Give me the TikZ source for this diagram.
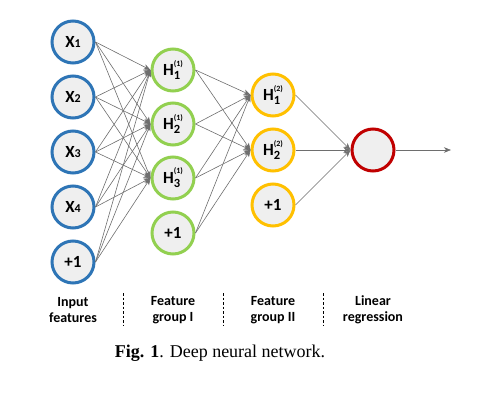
\documentclass[tikz,border=0pt]{standalone}
\usepackage{fontspec}
\setmainfont{Carlito}
\newfontfamily\capfont{Liberation Serif}
\usetikzlibrary{arrows.meta}
\definecolor{cblue}{HTML}{2E75B6}
\definecolor{cgreen}{HTML}{92D050}
\definecolor{cyellow}{HTML}{FFC000}
\definecolor{cred}{HTML}{C00000}
\definecolor{cfill}{HTML}{EFEFEF}
\definecolor{cedge}{HTML}{6E6E6E}
\begin{document}
\begin{tikzpicture}[x=1pt,y=-1pt,
  neuron/.style={circle,minimum size=42pt,inner sep=0pt,line width=3pt,fill=cfill,font=\fontsize{17}{19}\selectfont\bfseries},
  inneur/.style={neuron,draw=cblue},
  h1neur/.style={neuron,draw=cgreen},
  h2neur/.style={neuron,draw=cyellow},
  outneur/.style={neuron,draw=cred},
  conn/.style={draw=cedge,line width=0.6pt,-{Stealth[length=7pt,width=5.5pt,inset=2pt]}},
  lbl/.style={align=center,font=\fontsize{14}{16.5}\selectfont\bfseries},
  sep/.style={draw=black,line width=0.6pt,dash pattern=on 2.5pt off 2pt},
]
\useasboundingbox (0,0) rectangle (484,404);
\newcommand{\Hlab}[2]{H\raisebox{-4.5pt}{\shortstack[l]{{\fontsize{8}{8}\selectfont(#2)}\\[1.5pt]{\fontsize{12.5}{12}\selectfont #1}}}}
\newcommand{\Xlab}[1]{X{\fontsize{12}{14}\selectfont #1}}
% input layer
\node[inneur] (x1) at (73,42) {\Xlab{1}};
\node[inneur] (x2) at (73,97) {\Xlab{2}};
\node[inneur] (x3) at (73,152) {\Xlab{3}};
\node[inneur] (x4) at (73,207) {\Xlab{4}};
\node[inneur] (xb) at (73,262) {+1};
% hidden layer 1
\node[h1neur] (a1) at (173,70) {\Hlab{1}{1}};
\node[h1neur] (a2) at (173,124) {\Hlab{2}{1}};
\node[h1neur] (a3) at (173,178) {\Hlab{3}{1}};
\node[h1neur] (ab) at (173,233) {+1};
% hidden layer 2
\node[h2neur] (b1) at (273,95) {\Hlab{1}{2}};
\node[h2neur] (b2) at (273,150) {\Hlab{2}{2}};
\node[h2neur] (bb) at (273,205) {+1};
% output
\node[outneur] (o) at (373,150) {};
\coordinate (out) at (451,150);
% connectors
\foreach \s in {x1,x2,x3,x4,xb}
  \foreach \t in {a1,a2,a3}
    \draw[conn] (\s.east) -- (\t.west);
\foreach \s in {a1,a2,a3,ab}
  \foreach \t in {b1,b2}
    \draw[conn] (\s.east) -- (\t.west);
\foreach \s in {b1,b2,bb}
  \draw[conn] (\s.east) -- (o.west);
\draw[conn] (o.east) -- (out);
% labels
\node[lbl] (l1) at (73,310) {Input\\features};
\node[lbl] (l2) at (173,310) {Feature\\group I};
\node[lbl] (l3) at (273,310) {Feature\\group II};
\node[lbl] (l4) at (373,310) {Linear\\regression};
\coordinate (s1t) at (123,293); \coordinate (s1b) at (123,326);
\coordinate (s2t) at (223,293); \coordinate (s2b) at (223,326);
\coordinate (s3t) at (323,293); \coordinate (s3b) at (323,326);
\draw[sep] (s1t) -- (s1b);
\draw[sep] (s2t) -- (s2b);
\draw[sep] (s3t) -- (s3b);
\node[font=\capfont\fontsize{18}{20}\selectfont] (cap) at (220,353) {\textbf{Fig. 1}. Deep neural network.};
\end{tikzpicture}
\end{document}
